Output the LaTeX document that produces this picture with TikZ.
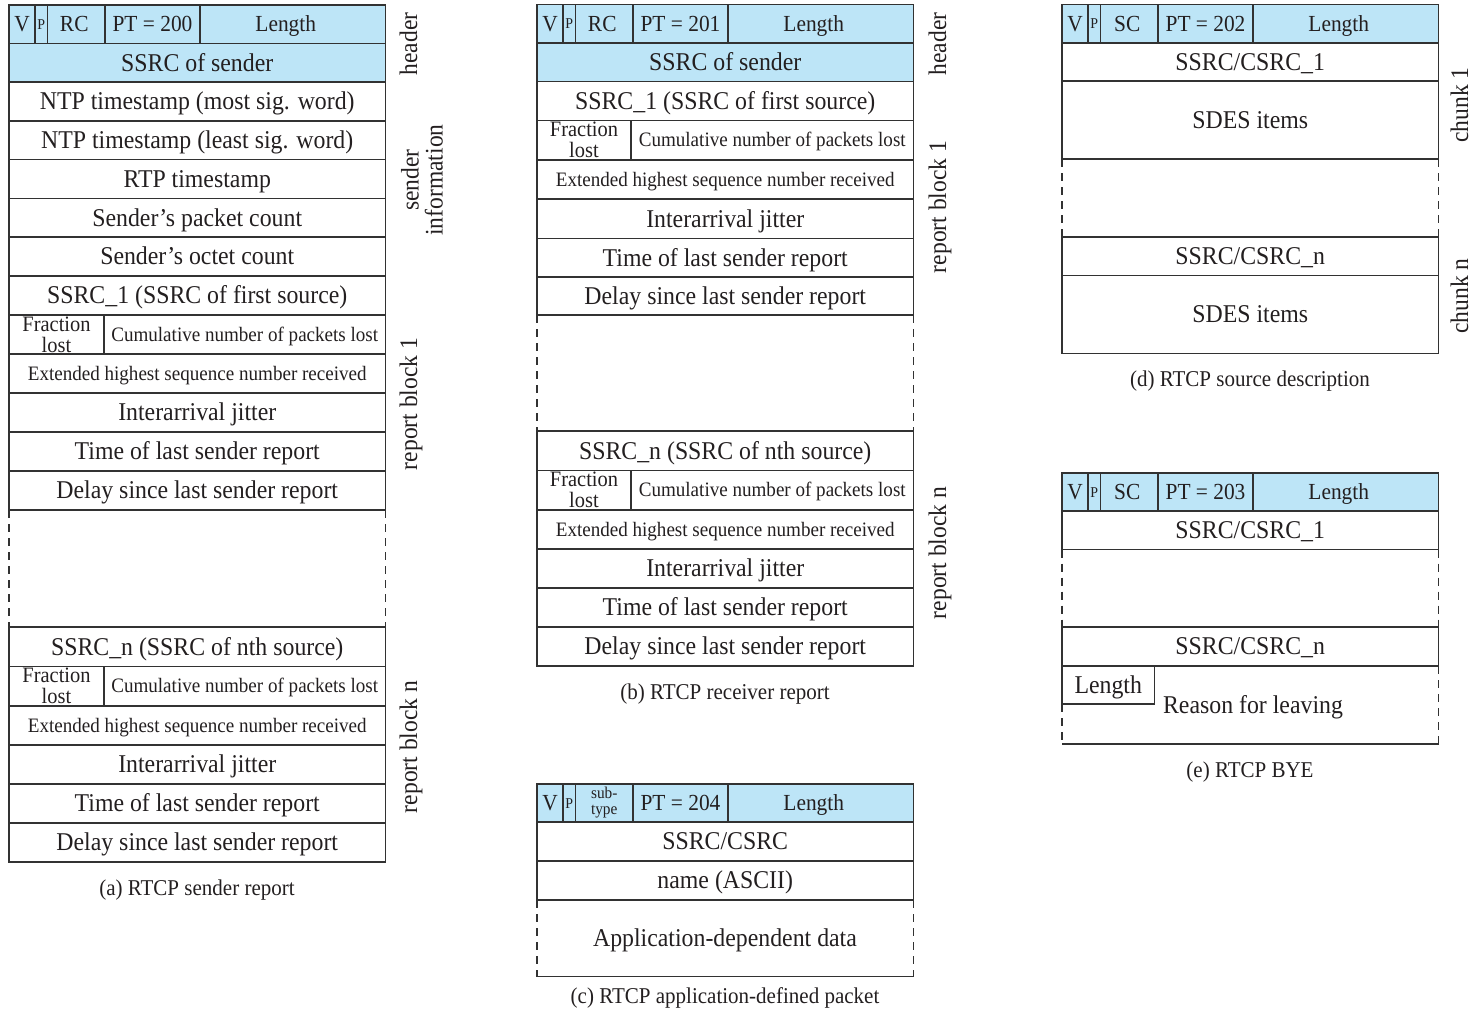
\documentclass[tikz,border=0pt]{standalone}
\usepackage{fontspec}
\setmainfont[FakeStretch=0.93,Ligatures=TeX]{Liberation Serif}
\definecolor{hdr}{RGB}{189,229,247}
\definecolor{ln}{RGB}{50,50,50}
\definecolor{ink}{RGB}{35,31,32}
\newcommand\mainsz{\fontsize{25.6}{28}\selectfont}
\newcommand\hdrsz{\fontsize{23}{25}\selectfont}
\newcommand\smsz{\fontsize{20.5}{22}\selectfont}
\newcommand\frsz{\fontsize{22}{21}\selectfont}
\newcommand\pesz{\fontsize{15}{16}\selectfont}
\newcommand\subsz{\fontsize{16.5}{16}\selectfont}
\newcommand\capsz{\fontsize{22.6}{25}\selectfont}
\newcommand\rotsz{\fontsize{25.3}{24}\selectfont}
\tikzset{
  cell/.style={draw=ln, line width=1.2pt, rectangle, inner sep=0pt, text=ink, font=\mainsz, text height=16.8pt, text depth=0pt},
  hcell/.style={cell, fill=hdr, font=\hdrsz, text height=15.1pt},
  scell/.style={cell, font=\smsz, text height=13.4pt},
  fcell/.style={cell, align=center, text height=, text depth=, font=\frsz},
  txt/.style={inner sep=0pt, text=ink, font=\mainsz, text height=16.8pt, text depth=0pt},
  dsh/.style={draw=ln, line width=1.2pt, dash pattern=on 8pt off 6pt},
  sol/.style={draw=ln, line width=1.2pt},
  rot/.style={rotate=90, anchor=base, font=\rotsz, text=ink, inner sep=0pt},
  capt/.style={anchor=base, font=\capsz, text=ink, inner sep=0pt}
}
\newcommand\fld[7][cell]{\node[#1, minimum width={(#5)-(#3)}, minimum height={(#6)-(#4)}] (#2) at ({((#3)+(#5))/2},{((#4)+(#6))/2}) {#7};}
\newcommand\hrow[6]{%
  \fld[hcell]{#1V}{#2}{#3}{#2+26}{#4}{V}
  \fld[hcell,font=\pesz,text height=10pt]{#1P}{#2+26}{#3}{#2+38.5}{#4}{P}
  \fld[hcell]{#1RC}{#2+38.5}{#3}{#2+96}{#4}{#5\kern4pt}
  \fld[hcell]{#1PT}{#2+96}{#3}{#2+191}{#4}{#6}
  \fld[hcell]{#1L}{#2+191}{#3}{#2+376.5}{#4}{Length\kern14pt}}
\begin{document}
\begin{tikzpicture}[x=1pt,y=-1pt]
\useasboundingbox (0,0) rectangle (1480,1013);
% ---------- (a) sender report ----------
\hrow{a}{9}{5}{43.5}{RC}{PT = 200}
\fld[cell,fill=hdr]{aSSRC}{9}{43.5}{385.5}{82}{SSRC of sender}
\fld{aNTPm}{9}{82}{385.5}{121}{NTP timestamp (most sig. word)}
\fld{aNTPl}{9}{121}{385.5}{159.5}{NTP timestamp (least sig. word)}
\fld{aRTP}{9}{159.5}{385.5}{198.5}{RTP timestamp}
\fld{aPkt}{9}{198.5}{385.5}{237}{Sender's packet count}
\fld{aOct}{9}{237}{385.5}{276}{Sender's octet count}
\fld{aS1}{9}{276}{385.5}{315}{SSRC\_1 (SSRC of first source)}
\fld[fcell]{aFr1}{9}{315}{104}{354}{Fraction\\lost}
\fld[scell]{aCum1}{104}{315}{385.5}{354}{Cumulative number of packets lost}
\fld[scell]{aExt1}{9}{354}{385.5}{393}{Extended highest sequence number received}
\fld{aJit1}{9}{393}{385.5}{432}{Interarrival jitter}
\fld{aTim1}{9}{432}{385.5}{471}{Time of last sender report}
\fld{aDel1}{9}{471}{385.5}{510}{Delay since last sender report}
\draw[dsh] (9,510) -- (9,627);
\draw[dsh] (385.5,510) -- (385.5,627);
\fld{aSn}{9}{627}{385.5}{666.5}{SSRC\_n (SSRC of nth source)}
\fld[fcell]{aFrn}{9}{666.5}{104}{706}{Fraction\\lost}
\fld[scell]{aCumn}{104}{666.5}{385.5}{706}{Cumulative number of packets lost}
\fld[scell]{aExtn}{9}{706}{385.5}{745}{Extended highest sequence number received}
\fld{aJitn}{9}{745}{385.5}{784}{Interarrival jitter}
\fld{aTimn}{9}{784}{385.5}{823}{Time of last sender report}
\fld{aDeln}{9}{823}{385.5}{862}{Delay since last sender report}
\node[rot] (aHdrLbl) at (417,44) {header};
\node[rotate=90, font=\rotsz, text=ink, align=center, inner sep=0pt] (aSILbl) at (422,180) {sender\\information};
\node[rot] (aRB1) at (417,404) {report block 1};
\node[rot] (aRBn) at (417,747) {report block n};
\node[capt] (aCap) at (197,895) {(a) RTCP sender report};
% ---------- (b) receiver report ----------
\hrow{b}{537}{4.5}{43}{RC}{PT = 201}
\fld[cell,fill=hdr]{bSSRC}{537}{43}{913.5}{81.5}{SSRC of sender}
\fld{bS1}{537}{81.5}{913.5}{120.5}{SSRC\_1 (SSRC of first source)}
\fld[fcell]{bFr1}{537}{120.5}{631}{160}{Fraction\\lost}
\fld[scell]{bCum1}{631}{120.5}{913.5}{160}{Cumulative number of packets lost}
\fld[scell]{bExt1}{537}{160}{913.5}{199}{Extended highest sequence number received}
\fld{bJit1}{537}{199}{913.5}{238.5}{Interarrival jitter}
\fld{bTim1}{537}{238.5}{913.5}{277}{Time of last sender report}
\fld{bDel1}{537}{277}{913.5}{315}{Delay since last sender report}
\draw[dsh] (537,315) -- (537,431);
\draw[dsh] (913.5,315) -- (913.5,431);
\fld{bSn}{537}{431}{913.5}{470.5}{SSRC\_n (SSRC of nth source)}
\fld[fcell]{bFrn}{537}{470.5}{631}{510}{Fraction\\lost}
\fld[scell]{bCumn}{631}{470.5}{913.5}{510}{Cumulative number of packets lost}
\fld[scell]{bExtn}{537}{510}{913.5}{549}{Extended highest sequence number received}
\fld{bJitn}{537}{549}{913.5}{588}{Interarrival jitter}
\fld{bTimn}{537}{588}{913.5}{627}{Time of last sender report}
\fld{bDeln}{537}{627}{913.5}{666}{Delay since last sender report}
\node[rot] (bHdrLbl) at (946,44) {header};
\node[rot] (bRB1) at (946,207) {report block 1};
\node[rot] (bRBn) at (946,553) {report block n};
\node[capt] (bCap) at (725,699) {(b) RTCP receiver report};
% ---------- (c) application-defined ----------
\fld[hcell]{cV}{537}{784}{563}{822}{V}
\fld[hcell,font=\pesz,text height=10pt]{cP}{563}{784}{575.5}{822}{P}
\fld[hcell,align=center,text height=,text depth=,font=\subsz]{cSub}{575.5}{784}{633}{822}{sub-\\type}
\fld[hcell]{cPT}{633}{784}{728}{822}{PT = 204}
\fld[hcell]{cL}{728}{784}{913.5}{822}{Length\kern14pt}
\fld{cSSRC}{537}{822}{913.5}{861}{SSRC/CSRC}
\fld{cName}{537}{861}{913.5}{900}{name (ASCII)}
\draw[dsh] (537,900) -- (537,976.5);
\draw[dsh] (913.5,900) -- (913.5,976.5);
\draw[sol] (537,976.5) -- (913.5,976.5);
\node[txt] (cApp) at (725,938) {Application-dependent data};
\node[capt] (cCap) at (725,1003) {(c) RTCP application-defined packet};
% ---------- (d) source description ----------
\hrow{d}{1062}{4.5}{43}{SC}{PT = 202}
\fld{dS1}{1062}{43}{1438.5}{81}{SSRC/CSRC\_1}
\fld{dI1}{1062}{81}{1438.5}{159}{SDES items}
\draw[dsh] (1062,159) -- (1062,237);
\draw[dsh] (1438.5,159) -- (1438.5,237);
\fld{dSn}{1062}{237}{1438.5}{275.5}{SSRC/CSRC\_n}
\fld{dIn}{1062}{275.5}{1438.5}{353.5}{SDES items}
\node[rot] (dCh1) at (1468,105) {chunk 1};
\node[rot] (dChn) at (1468,296) {chunk n};
\node[capt] (dCap) at (1250,386) {(d) RTCP source description};
% ---------- (e) BYE ----------
\hrow{e}{1062}{473}{511}{SC}{PT = 203}
\fld{eS1}{1062}{511}{1438.5}{549.5}{SSRC/CSRC\_1}
\draw[dsh] (1062,549.5) -- (1062,627);
\draw[dsh] (1438.5,549.5) -- (1438.5,627);
\fld{eSn}{1062}{627}{1438.5}{666}{SSRC/CSRC\_n}
\fld{eLen}{1062}{666}{1154.5}{704}{Length}
\draw[dsh] (1062,704) -- (1062,744);
\draw[dsh] (1438.5,666) -- (1438.5,744);
\draw[sol] (1062,744) -- (1438.5,744);
\node[txt] (eReason) at (1253,705) {Reason for leaving};
\node[capt] (eCap) at (1250,777) {(e) RTCP BYE};
\end{tikzpicture}
\end{document}
